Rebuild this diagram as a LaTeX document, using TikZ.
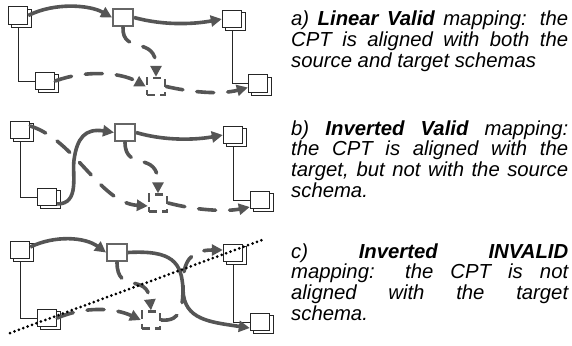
\documentclass[tikz,border=0pt]{standalone}
\usepackage{fontspec}
\setmainfont{Liberation Sans}
\usetikzlibrary{arrows.meta,shadows,backgrounds}
\definecolor{flow}{HTML}{555555}
\definecolor{cptgray}{HTML}{666666}
\tolerance=10000
\hbadness=10000
\begin{document}
\begin{tikzpicture}[x=1pt,y=-1pt,
  schema/.style={draw=black!85, line width=0.9pt, fill=white,
    minimum width=19.5pt, minimum height=17.7pt, inner sep=0pt,
    copy shadow={shadow xshift=3.5pt, shadow yshift=-2.7pt}},
  cpt/.style={draw=cptgray, line width=2pt, fill=white,
    minimum width=20pt, minimum height=17.5pt, inner sep=0pt},
  cptgap/.style={draw=flow, line width=2.4pt, dash pattern=on 8pt off 5pt,
    minimum width=18pt, minimum height=17pt, inner sep=0pt},
  link/.style={draw=black!85, line width=0.9pt},
  flowline/.style={draw=flow, line width=3.6pt, -{Triangle[length=11pt,width=11pt]}},
  flowdash/.style={flowline, line cap=round, dash pattern=on 17pt off 14pt},
  cut/.style={draw=black, line width=3pt, line cap=round, dash pattern=on 0pt off 4.7pt},
  caption/.style={anchor=base west, inner sep=0pt, text width=277pt, align=justify,
    font=\fontsize{20.3}{20.7}\selectfont\itshape}
]
\path[use as bounding box] (0,0) rectangle (572,345);

% ---- a) linear valid mapping
\node[schema] (as1) at (18,15.5) {};
\node[schema] (as2) at (45,81) {};
\node[cpt] (ac) at (123,17.5) {};
\node[schema] (at1) at (232,19) {};
\node[schema] (at2) at (258,83.5) {};
\node[cptgap] (ab) at (156,86.5) {};

\draw[flowline] (as1.east) .. controls (55,2) and (90,5) .. (ac.west);
\draw[flowline] (ac.east) .. controls (165,26) and (195,24) .. (at1.west);
\draw[flowdash] (ac.south) .. controls (122,55) and (156,35) .. (ab.north);
\draw[flowdash] (as2.east) .. controls (85,70) and (120,72) .. (ab.west);
\draw[flowdash] (ab.east) .. controls (190,92) and (220,95) .. ([yshift=-4pt]at2.west);

% ---- b) inverted valid mapping
\node[schema] (bs1) at (20,130) {};
\node[schema] (bs2) at (47,197) {};
\node[cpt] (bc) at (125,132.5) {};
\node[schema] (bt1) at (233,135) {};
\node[schema] (bt2) at (260,200) {};
\node[cptgap] (bb) at (158,203) {};

\draw[flowline] ([yshift=-7pt]bs2.east) .. controls (80,204) and (72,175) .. (74,160)
  .. controls (77,138) and (85,128) .. (bc.west);
\draw[flowline] (bc.east) .. controls (165,141) and (195,140) .. (bt1.west);
\draw[flowdash] (bc.south) .. controls (125,172) and (158,150) .. (bb.north);
\draw[flowdash] ([yshift=4pt]bs1.east) .. controls (75,140) and (100,203) .. ([yshift=-3pt]bb.west);
\draw[flowdash] (bb.east) .. controls (195,210) and (225,212) .. ([yshift=-7pt]bt2.west);

% ---- c) inverted invalid mapping
\node[schema] (cs1) at (20,250) {};
\node[schema] (cs2) at (47,318) {};
\node[cpt] (cc) at (117,252.5) {};
\node[schema] (ct1) at (233,253) {};
\node[schema] (ct2) at (260,322) {};
\node[cptgap] (cb) at (151,320) {};

\draw[flowline] ([yshift=3pt]cs1.east) .. controls (55,235) and (85,237) .. (cc.west);
\draw[flowline] (cc.east) .. controls (172,250) and (182,262) .. (183,290)
  .. controls (184,320) and (210,322) .. ([yshift=-6pt]ct2.west);
\draw[flowdash] (cc.south) .. controls (117,295) and (147,272) .. (cb.north);
\draw[flowdash] (cs2.east) .. controls (85,306) and (115,308) .. (cb.west);
\draw[flowdash] (cb.east) .. controls (182,322) and (183,305) .. (183,285)
  .. controls (183,262) and (190,250) .. ([yshift=3pt]ct1.west);

% schema links, behind the boxes
\begin{pgfonlayer}{background}
  \draw[link] (as1.south) |- (as2.west);
  \draw[link] (at1.south) |- (at2.west);
  \draw[link] (bs1.south) |- (bs2.west);
  \draw[link] (bt1.south) |- (bt2.west);
  \draw[link] (cs1.south) |- (cs2.west);
  \draw[link] (ct1.south) |- (ct2.west);
\end{pgfonlayer}

% alignment cut
\coordinate (cutlo) at (10,333);
\coordinate (cuthi) at (262,240);
\draw[cut] (cutlo) -- (cuthi);

% captions
\node[caption] (capa) at (291,26) {a) \textbf{Linear Valid} mapping: the\linebreak
  CPT is aligned with both the\linebreak source and target schemas};
\node[caption] (capb) at (291,135) {b) \textbf{Inverted Valid} mapping:\linebreak
  the CPT is aligned with the\linebreak target, but not with the source\linebreak schema.};
\node[caption] (capc) at (291,258) {c) \textbf{Inverted} \textbf{INVALID}\linebreak
  mapping: the CPT is not\linebreak aligned with the target\linebreak schema.};
\end{tikzpicture}
\end{document}
